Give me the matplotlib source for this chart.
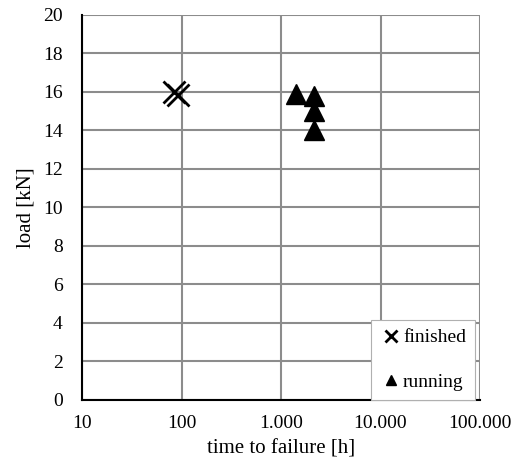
import numpy as np
import matplotlib
matplotlib.use('Agg')
import matplotlib.pyplot as plt
from matplotlib.ticker import FixedLocator, FuncFormatter, NullLocator

# Test results
finished_time = [85, 92]
finished_load = [16.0, 15.85]
running_time = [1400, 2150, 2150, 2150]
running_load = [15.9, 15.8, 15.0, 14.0]

x_ticks = [10, 100, 1000, 10000, 100000]
y_ticks = list(range(0, 21, 2))

plt.rcParams['font.family'] = ['Liberation Serif', 'DejaVu Serif']

fig = plt.figure(figsize=(5.23, 4.67), dpi=100)
ax = fig.add_axes([82 / 523, 67 / 467, 398 / 523, 385.3 / 467])

ax.set_xscale('log')
ax.set_xlim(10, 100000)
ax.set_ylim(0, 20)

ax.xaxis.set_major_locator(FixedLocator(x_ticks))
ax.xaxis.set_minor_locator(NullLocator())
ax.xaxis.set_major_formatter(FuncFormatter(lambda v, p: f'{int(v):,}'.replace(',', '.')))
ax.yaxis.set_major_locator(FixedLocator(y_ticks))

ax.grid(True, color='#8c8c8c', linewidth=1.5)
ax.set_axisbelow(True)
for s in ['top', 'right']:
    ax.spines[s].set_visible(False)
for s in ['left', 'bottom']:
    ax.spines[s].set_linewidth(1.5)
    ax.spines[s].set_color('black')
ax.tick_params(length=0, labelsize=14)
ax.tick_params(axis='x', pad=11)
ax.tick_params(axis='y', pad=14)

ax.plot(finished_time, finished_load, linestyle='none', marker='x', markersize=16,
        markeredgewidth=2, color='black', label='finished', clip_on=False)
ax.plot(running_time, running_load, linestyle='none', marker='^', markersize=15,
        color='black', label='running', clip_on=False)

ax.set_xlabel('time to failure [h]', fontsize=15, labelpad=5)
ax.set_ylabel('load [kN]', fontsize=15, labelpad=5)

leg = ax.legend(loc='lower right', bbox_to_anchor=(0.987, 0.0), fontsize=14,
                frameon=True, fancybox=False, edgecolor='#b0b0b0', framealpha=1,
                borderaxespad=0, handlelength=1.2, handletextpad=0.0,
                labelspacing=1.4, markerscale=0.5, borderpad=0.45)
leg.get_frame().set_linewidth(0.8)

fig.savefig('out.png', dpi=100)
